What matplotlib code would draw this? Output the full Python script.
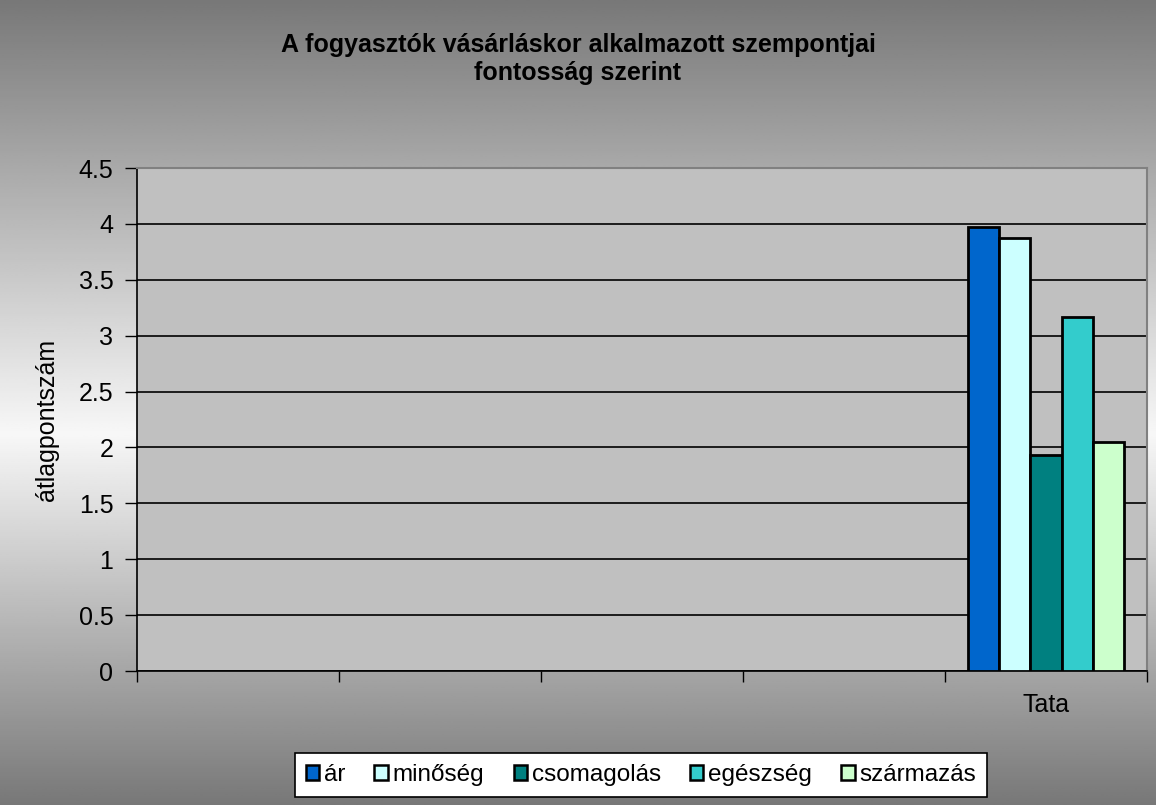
import numpy as np
import matplotlib
matplotlib.use("Agg")
import matplotlib.pyplot as plt
from matplotlib.patches import Patch

plt.rcParams['font.family'] = ['Liberation Sans', 'DejaVu Sans']

categories = ["", "", "", "", "Tata"]
series_names = ["ár", "minőség", "csomagolás", "egészség", "származás"]
ar = [np.nan, np.nan, np.nan, np.nan, 3.97]
minoseg = [np.nan, np.nan, np.nan, np.nan, 3.87]
csomagolas = [np.nan, np.nan, np.nan, np.nan, 1.93]
egeszseg = [np.nan, np.nan, np.nan, np.nan, 3.17]
szarmazas = [np.nan, np.nan, np.nan, np.nan, 2.05]
series_values = [ar, minoseg, csomagolas, egeszseg, szarmazas]
colors = ["#0066CC", "#CCFFFF", "#008080", "#33CCCC", "#CCFFCC"]
yticks = [0, 0.5, 1, 1.5, 2, 2.5, 3, 3.5, 4, 4.5]

W, H = 1156, 805
fig = plt.figure(figsize=(W / 100, H / 100), dpi=100)

# gradient background
bg = fig.add_axes([0, 0, 1, 1], zorder=-10)
yy = np.linspace(0, 1, 400)
center = 0.54
dark, light = 0.47, 0.97
g = np.where(yy < center, dark + (light - dark) * (yy / center),
             light - (light - dark) * ((yy - center) / (1 - center)))
img = np.repeat(g[:, None], 2, axis=1)
bg.imshow(img, cmap='gray', vmin=0, vmax=1, aspect='auto', extent=[0, 1, 1, 0])
bg.set_axis_off()

left, right, top, bottom = 137, 1147, 168, 671
ax = fig.add_axes([left / W, 1 - bottom / H, (right - left) / W, (bottom - top) / H])
ax.set_facecolor("#C0C0C0")

n = len(categories)
x = np.arange(n)
bw = 0.155
for i, (name, vals, c) in enumerate(zip(series_names, series_values, colors)):
    off = (i - 2) * bw
    ax.bar(x + off, vals, width=bw, color=c, edgecolor='black', linewidth=2,
           label=name, zorder=3)

ax.set_xlim(-0.5, n - 0.5)
ax.set_ylim(0, 4.5)
ax.set_yticks(yticks)
ax.set_yticklabels([f"{t:g}" for t in yticks], fontsize=18)
ax.yaxis.grid(True, color='black', linewidth=1.2, zorder=1)
ax.set_axisbelow(True)

ax.set_xticks(x)
ax.set_xticklabels(categories, fontsize=18)
ax.tick_params(axis='x', which='major', length=0, pad=16)
ax.set_xticks(np.arange(-0.5, n, 1.0), minor=True)
ax.tick_params(axis='x', which='minor', length=8, width=1, color='black', direction='out')
ax.tick_params(axis='y', length=9, width=1, direction='out', pad=8)

for s in ['left', 'bottom']:
    ax.spines[s].set_color('black')
    ax.spines[s].set_linewidth(1.2)
for s in ['top', 'right']:
    ax.spines[s].set_color('#808080')
    ax.spines[s].set_linewidth(1.5)

ax.set_ylabel("átlagpontszám", fontsize=18)
ax.yaxis.set_label_coords((59 - left) / (right - left), 0.5)

fig.text(578 / W, 1 - 45 / H, "A fogyasztók vásárláskor alkalmazott szempontjai",
         ha='center', va='center', fontsize=18, fontweight='bold')
fig.text(578 / W, 1 - 73 / H, "fontosság szerint",
         ha='center', va='center', fontsize=18, fontweight='bold')

handles = [Patch(facecolor=c, edgecolor='black', linewidth=1.8) for c in colors]
leg = fig.legend(handles, series_names, loc='center', bbox_to_anchor=(641 / W, 1 - 775 / H),
                 ncol=5, fontsize=17.5, frameon=True, fancybox=False, handlelength=0.55,
                 handleheight=0.55, handletextpad=0.2, columnspacing=1.2, borderpad=0.45)
leg.get_frame().set_edgecolor('black')
leg.get_frame().set_facecolor('white')
leg.get_frame().set_alpha(1)
leg.get_frame().set_linewidth(1.2)

fig.savefig("out.png", dpi=100)
